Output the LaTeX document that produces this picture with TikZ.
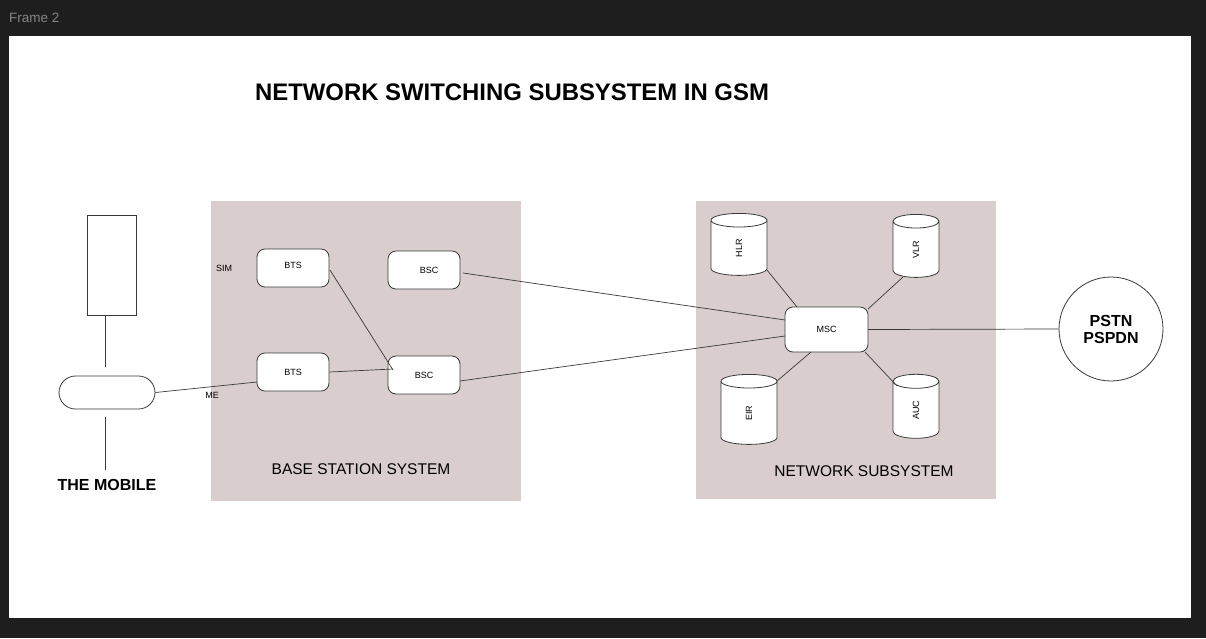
\documentclass[tikz,border=0pt]{standalone}
\usepackage{fontspec}
\setmainfont{Liberation Sans}
\usetikzlibrary{shapes.geometric}
\definecolor{bgdark}{HTML}{1E1E1E}
\definecolor{framegray}{HTML}{858585}
\definecolor{panel}{HTML}{D9CDCD}
\definecolor{ink}{HTML}{3A3A3A}
\tikzset{
  px/.style={x=1pt,y=-1pt},
  box/.style={draw=ink,line width=0.8pt,fill=white,rounded corners=8pt,minimum width=72pt,minimum height=38pt,inner sep=0pt,font=\fontsize{9}{10}\selectfont},
  db/.style={cylinder,shape border rotate=90,draw=ink,line width=0.8pt,fill=white,aspect=2.2,inner sep=0pt,font=\fontsize{9}{10}\selectfont},
  link/.style={draw=ink,line width=0.7pt},
  small/.style={font=\fontsize{9}{10}\selectfont,inner sep=0pt},
  caption/.style={font=\fontsize{15.5}{17}\selectfont,inner sep=0pt},
}
\begin{document}
\begin{tikzpicture}[px]
\fill[bgdark] (0,0) rectangle (1206,638);
\useasboundingbox (0,0) rectangle (1206,638);
\fill[white] (9,36) rectangle (1191,618);
\node[anchor=west,text=framegray,font=\fontsize{13.5}{14}\selectfont,inner sep=0pt] (frame) at (9,18) {Frame 2};
\node[font=\bfseries\fontsize{23.9}{26}\selectfont,inner sep=0pt] (title) at (512,92) {NETWORK SWITCHING SUBSYSTEM IN GSM};
% panels
\fill[panel] (211,201) rectangle (521,501);
\fill[panel] (696,201) rectangle (996,499);
\node[caption] (bsslbl) at (361,469) {BASE STATION SYSTEM};
\node[caption] (nsslbl) at (864,471) {NETWORK SUBSYSTEM};
% mobile
\node[draw=ink,line width=0.8pt,fill=white,minimum width=49pt,minimum height=100pt,inner sep=0pt] (sim) at (111.5,265) {};
\node[draw=ink,line width=0.8pt,fill=white,rounded corners=16.5pt,minimum width=96pt,minimum height=33pt,inner sep=0pt] (me) at (107,392.5) {};
\coordinate (simlow) at (105,315);
\coordinate (mtop) at (105,367);
\coordinate (mbot) at (105,417);
\coordinate (mend) at (105,470);
\draw[link] (simlow) -- (mtop);
\draw[link] (mbot) -- (mend);
\node[font=\bfseries\fontsize{16}{18}\selectfont,inner sep=0pt] (mob) at (107,485) {THE MOBILE};
\node[small] (simlbl) at (224,268) {SIM};
\node[small] (melbl) at (212,395) {ME};
% BSS nodes
\node[box] (bts1) at (293,268) {\raisebox{6pt}{BTS}};
\node[box] (bsc1) at (424,270) {\hspace{10pt}BSC};
\node[box] (bts2) at (293,372) {BTS};
\node[box] (bsc2) at (424,375) {\raisebox{-5pt}{BSC}};
% NSS nodes
\node[box,minimum width=83pt,minimum height=45pt] (msc) at (826.5,329.5) {MSC};
\node[db,minimum width=56pt,minimum height=62pt] (hlr) at (739,248) {\rotatebox{90}{HLR}};
\node[db,minimum width=46pt,minimum height=63pt] (vlr) at (916,249.5) {\rotatebox{90}{VLR}};
\node[db,minimum width=56pt,minimum height=70pt] (eir) at (749,413) {\rotatebox{90}{EIR}};
\node[db,minimum width=46pt,minimum height=64pt] (auc) at (916,410) {\rotatebox{90}{AUC}};
\node[circle,draw=ink,line width=0.8pt,fill=white,minimum size=104pt,inner sep=0pt,font=\bfseries\fontsize{16}{18}\selectfont,align=center] (pstn) at (1111,329) {PSTN\\[-1pt]PSPDN};
% links
\draw[link] (me.east) -- ([shift={(-36,10)}]bts2.center);
\draw[link] (bts2.east) -- ([shift={(-31,-6)}]bsc2.center);
\draw[link] ([shift={(37,2)}]bts1.center) -- ([shift={(-31,-5)}]bsc2.center);
\draw[link] ([shift={(39,3)}]bsc1.center) -- ([shift={(-41.5,-9.5)}]msc.center);
\draw[link] ([shift={(36,6)}]bsc2.center) -- ([shift={(-41.5,6.5)}]msc.center);
\draw[link] ([shift={(41.5,0)}]msc.center) -- (pstn.west);
\draw[link] ([shift={(28,22)}]hlr.center) -- ([shift={(-29.5,-22.5)}]msc.center);
\draw[link] ([shift={(-13,27.5)}]vlr.center) -- ([shift={(41.5,-20.5)}]msc.center);
\draw[link] ([shift={(28,-32)}]eir.center) -- ([shift={(-15.5,22.5)}]msc.center);
\draw[link] ([shift={(-19,-24)}]auc.center) -- ([shift={(38.5,22.5)}]msc.center);
\end{tikzpicture}
\end{document}
